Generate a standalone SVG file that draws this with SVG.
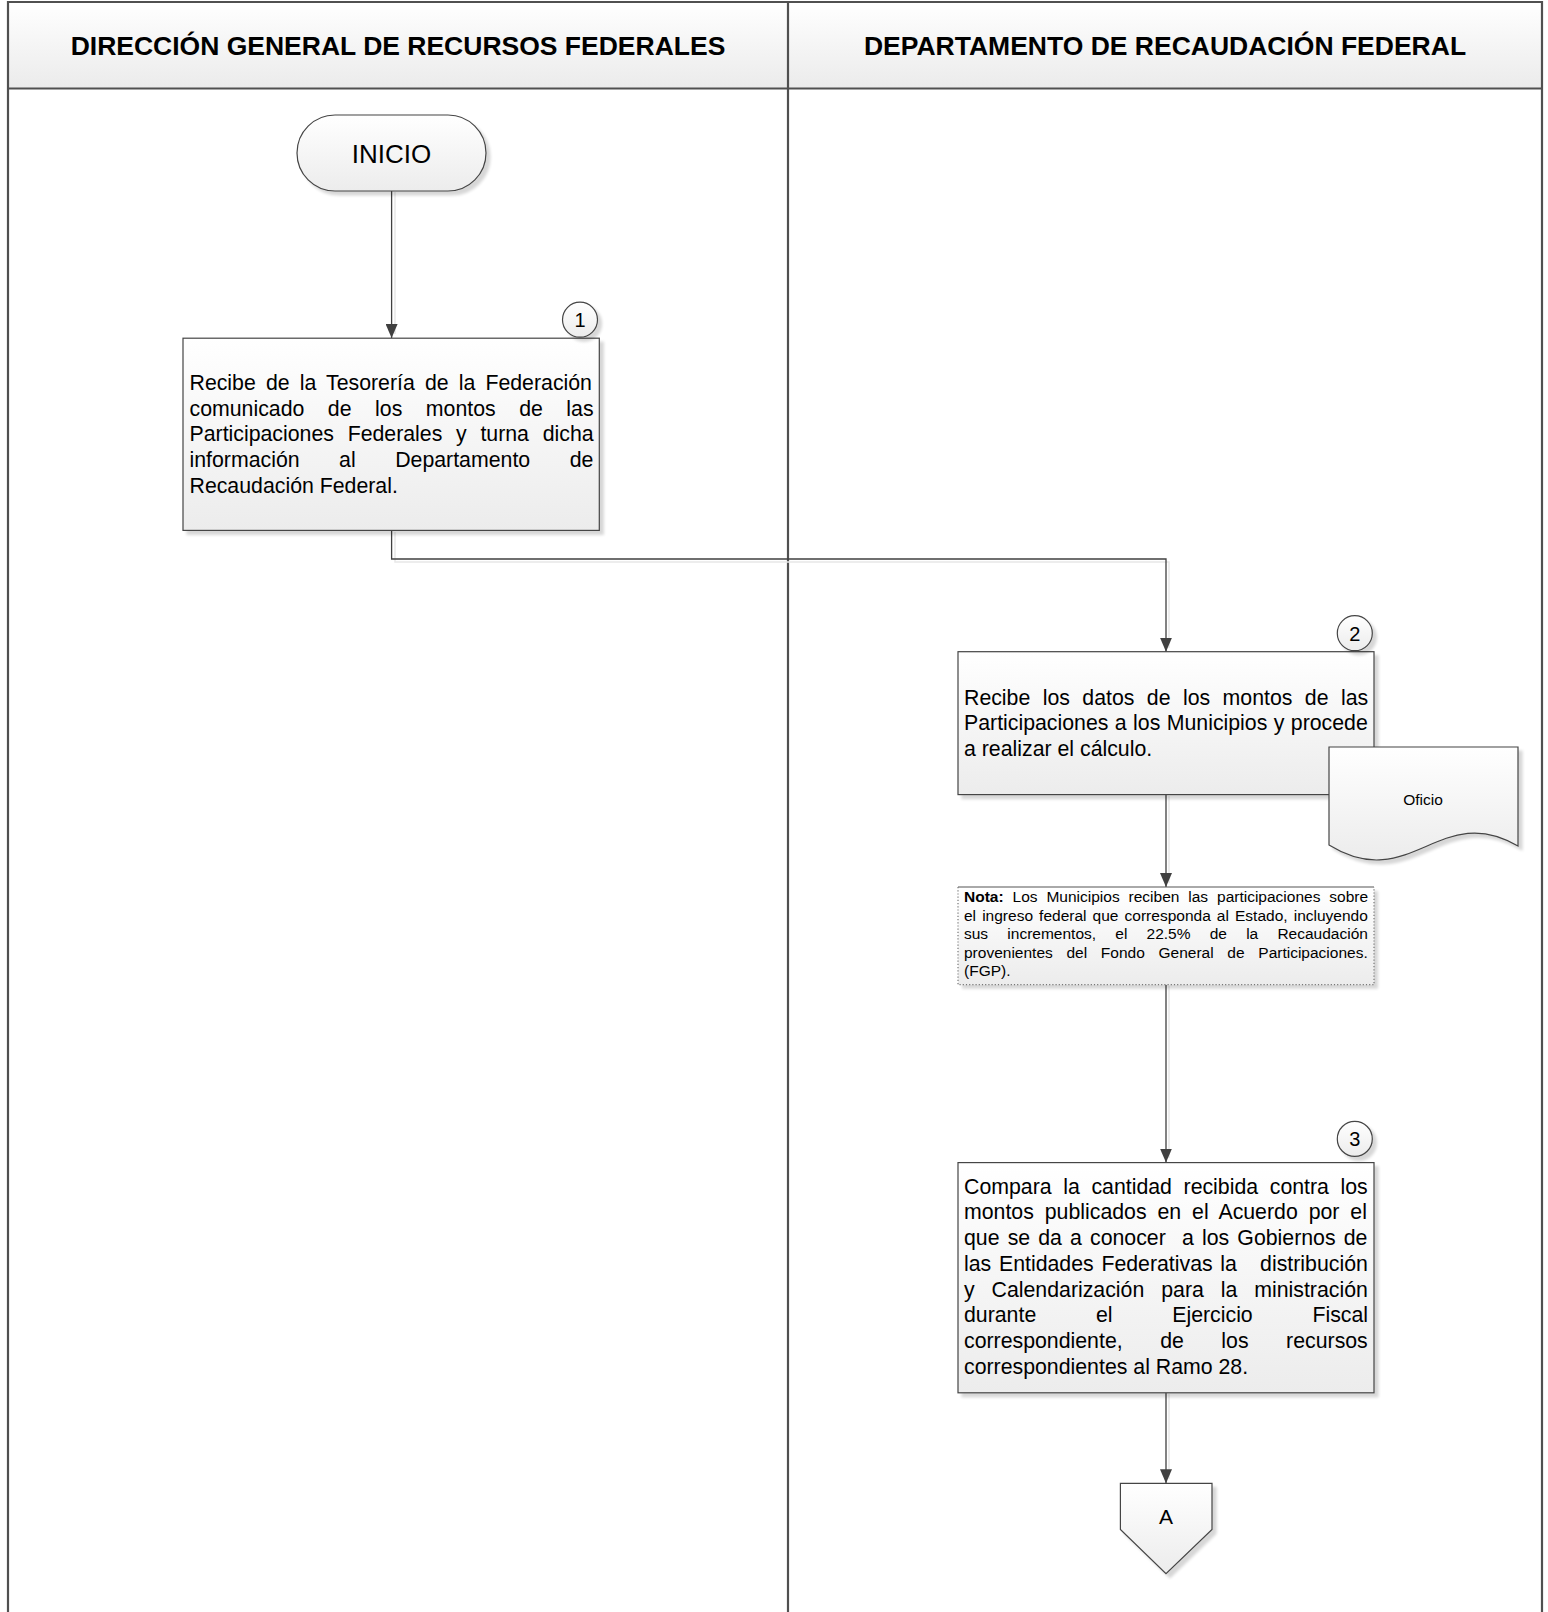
<svg xmlns="http://www.w3.org/2000/svg" width="1548" height="1612" viewBox="0 0 1548 1612">
<defs>
<style>
.t{font-family:"Liberation Sans",Arial,sans-serif;fill:#000;white-space:pre}
.h{font-size:26.5px;font-weight:bold;text-anchor:middle}
.m{font-size:21.3px}
.s{font-size:15.5px}
.c{text-anchor:middle}
.node{fill:url(#ng);stroke:#454545;stroke-width:1.2}
.lane{fill:none;stroke:#505050;stroke-width:2.2}
.con{fill:none;stroke:#404040;stroke-width:1.3}
.conS{fill:none;stroke:#e8e8e8;stroke-width:1.5}
</style>
<linearGradient id="ng" x1="0" y1="0" x2="0" y2="1"><stop offset="0" stop-color="#ffffff"/><stop offset="1" stop-color="#ececec"/></linearGradient>
<linearGradient id="hg" x1="0" y1="0" x2="0" y2="1"><stop offset="0" stop-color="#ffffff"/><stop offset="1" stop-color="#ebebeb"/></linearGradient>
<filter id="sh" x="-10%" y="-10%" width="130%" height="130%">
<feGaussianBlur in="SourceAlpha" stdDeviation="1.5"/><feOffset dx="4" dy="4"/>
<feComponentTransfer><feFuncA type="linear" slope="0.16"/></feComponentTransfer>
<feMerge><feMergeNode/><feMergeNode in="SourceGraphic"/></feMerge>
</filter>
<marker id="ar" markerUnits="userSpaceOnUse" markerWidth="14" markerHeight="12" viewBox="0 0 14 12" refX="14" refY="6" orient="auto"><path d="M0,0 L14,6 L0,12 z" fill="#404040"/></marker>
</defs>
<rect width="1548" height="1612" fill="#ffffff"/>

<g id="lanes">
<rect x="8" y="2" width="1534" height="86.5" fill="url(#hg)"/>
<path class="lane" d="M8,1612 V2 H1542 V1612 M8,88.5 H1542 M788,2 V1612"/>
<text class="t h" x="398" y="54.5">DIRECCIÓN GENERAL DE RECURSOS FEDERALES</text>
<text class="t h" x="1165" y="54.5">DEPARTAMENTO DE RECAUDACIÓN FEDERAL</text>
</g>

<g id="connectors">
<path class="conS" d="M395,192 V334 M395,532 V562 H1169 V648 M1169,796 V883 M1169,986 V1158 M1169,1394 V1479"/>
<path class="con" d="M391.6,191 V338" marker-end="url(#ar)"/>
<path class="con" d="M391.6,530.4 V559 H1166 V651.7" marker-end="url(#ar)"/>
<path class="con" d="M1166,794.6 V887" marker-end="url(#ar)"/>
<path class="con" d="M1166,984.7 V1162.6" marker-end="url(#ar)"/>
<path class="con" d="M1166,1392.8 V1483.3" marker-end="url(#ar)"/>
</g>

<g id="inicio">
<rect class="node" x="297" y="115" width="189" height="76" rx="38" ry="38" filter="url(#sh)"/>
<text class="t c" x="391.5" y="162.5" style="font-size:26px">INICIO</text>
</g>

<g id="paso1">
<rect class="node" x="183" y="338.2" width="416.3" height="192.2" filter="url(#sh)"/>
<text class="t m" x="189.5" y="390" word-spacing="4.2">Recibe de la Tesorería de la Federación</text>
<text class="t m" x="189.5" y="415.7" word-spacing="17.6">comunicado de los montos de las</text>
<text class="t m" x="189.5" y="441.4" word-spacing="7.8">Participaciones Federales y turna dicha</text>
<text class="t m" x="189.5" y="467.1" word-spacing="33.6">información al Departamento de</text>
<text class="t m" x="189.5" y="492.8">Recaudación Federal.</text>
</g>
<g id="num1">
<circle class="node" cx="580" cy="319.7" r="17.5" filter="url(#sh)"/>
<text class="t c" x="580" y="327" style="font-size:20px">1</text>
</g>

<g id="paso2">
<rect class="node" x="958" y="651.7" width="416" height="142.9" filter="url(#sh)"/>
<text class="t m" x="964" y="704.5" word-spacing="6.5">Recibe los datos de los montos de las</text>
<text class="t m" x="964" y="730.2" word-spacing="0.5">Participaciones a los Municipios y procede</text>
<text class="t m" x="964" y="755.9">a realizar el cálculo.</text>
</g>
<g id="num2">
<circle class="node" cx="1354.8" cy="633.2" r="17.5" filter="url(#sh)"/>
<text class="t c" x="1354.8" y="640.5" style="font-size:20px">2</text>
</g>

<g id="oficio">
<path class="node" d="M1329,747 H1518 V846 C1440,800 1410,895 1329,845 Z" filter="url(#sh)"/>
<text class="t c s" x="1423" y="804.5">Oficio</text>
</g>

<g id="nota">
<rect x="958" y="887" width="416" height="97.7" fill="url(#ng)" filter="url(#sh)"/>
<path d="M958,887 H1374" stroke="#555" stroke-width="1.2" fill="none"/>
<path d="M958,887 V984.7 H1374 V887" stroke="#777" stroke-width="1.2" stroke-dasharray="1.2,2" fill="none"/>
<text class="t s" x="964" y="902" word-spacing="4.6"><tspan font-weight="bold">Nota:</tspan> Los Municipios reciben las participaciones sobre</text>
<text class="t s" x="964" y="920.6" word-spacing="1.8">el ingreso federal que corresponda al Estado, incluyendo</text>
<text class="t s" x="964" y="939.2" word-spacing="14.9">sus incrementos, el 22.5% de la Recaudación</text>
<text class="t s" x="964" y="957.8" word-spacing="9.4">provenientes del Fondo General de Participaciones.</text>
<text class="t s" x="964" y="976.4">(FGP).</text>
</g>

<g id="paso3">
<rect class="node" x="958" y="1162.6" width="416" height="230.2" filter="url(#sh)"/>
<text class="t m" x="964" y="1193.7" word-spacing="5.7">Compara la cantidad recibida contra los</text>
<text class="t m" x="964" y="1219.4" word-spacing="5">montos publicados en el Acuerdo por el</text>
<text class="t m" x="964" y="1245.1" word-spacing="2.2">que se da a conocer  a los Gobiernos de</text>
<text class="t m" x="964" y="1270.8" word-spacing="1.8">las Entidades Federativas la   distribución</text>
<text class="t m" x="964" y="1296.5" word-spacing="11">y Calendarización para la ministración</text>
<text class="t m" x="964" y="1322.2" word-spacing="53.8">durante el Ejercicio Fiscal</text>
<text class="t m" x="964" y="1347.9" word-spacing="31.6">correspondiente, de los recursos</text>
<text class="t m" x="964" y="1373.6">correspondientes al Ramo 28.</text>
</g>
<g id="num3">
<circle class="node" cx="1354.8" cy="1138.9" r="17.5" filter="url(#sh)"/>
<text class="t c" x="1354.8" y="1146.2" style="font-size:20px">3</text>
</g>

<g id="conectorA">
<path class="node" d="M1120.4,1483.3 H1212 V1529.5 L1166,1573.7 L1120.4,1529.5 Z" filter="url(#sh)"/>
<text class="t c" x="1166" y="1523.5" style="font-size:21px">A</text>
</g>
</svg>
